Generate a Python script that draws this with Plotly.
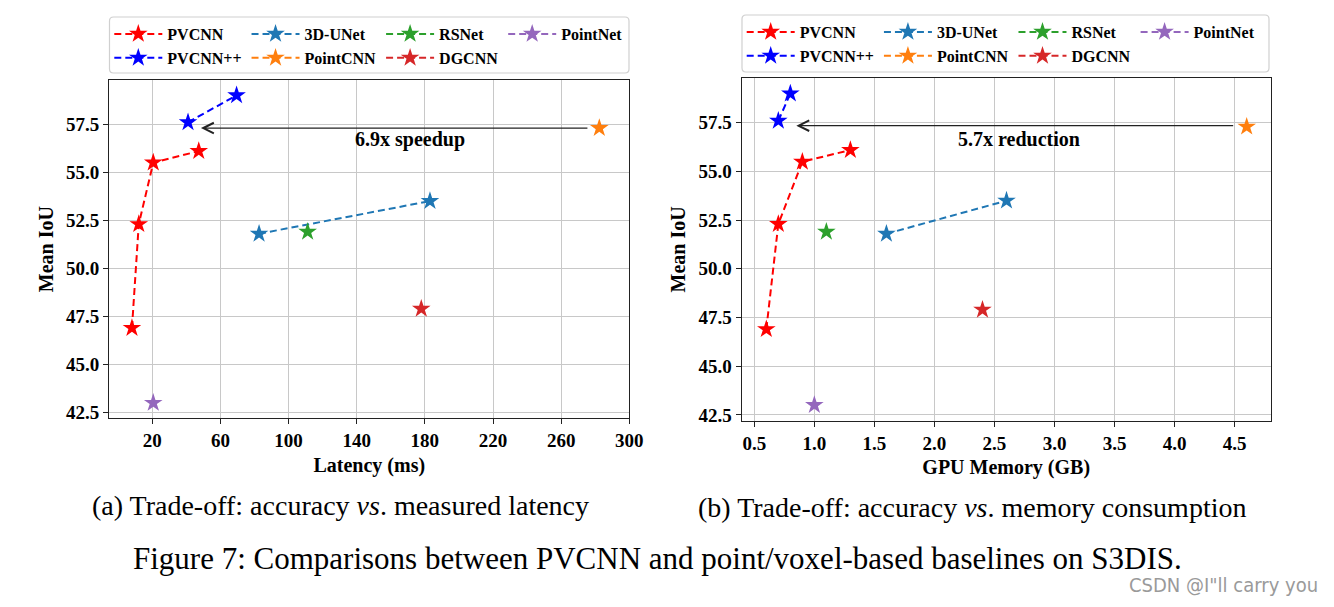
import plotly.graph_objects as go

W, H = 1334, 607
OFF = 8  # default page body margin in the browser

# ---------------- data ----------------
methods = ["PVCNN", "PVCNN++", "3D-UNet", "PointCNN", "RSNet", "DGCNN", "PointNet"]
colors = ["#ff0000", "#0000ff", "#1f77b4", "#ff7f0e", "#2ca02c", "#d62728", "#9467bd"]
legend_cols = [1, 1, 2, 2, 3, 3, 4]

latency = {
    "PVCNN": [8.1, 12.1, 20.6, 47.3],
    "PVCNN++": [41.0, 69.5],
    "3D-UNet": [82.7, 183.0],
    "PointCNN": [282.4],
    "RSNet": [111.2],
    "DGCNN": [177.9],
    "PointNet": [20.6],
}
memory = {
    "PVCNN": [0.6, 0.7, 0.9, 1.3],
    "PVCNN++": [0.7, 0.8],
    "3D-UNet": [1.6, 2.6],
    "PointCNN": [4.6],
    "RSNet": [1.1],
    "DGCNN": [2.4],
    "PointNet": [1.0],
}
miou = {
    "PVCNN": [46.9, 52.3, 55.5, 56.1],
    "PVCNN++": [57.6, 59.0],
    "3D-UNet": [51.8, 53.5],
    "PointCNN": [57.3],
    "RSNet": [51.9],
    "DGCNN": [47.9],
    "PointNet": [43.0],
}

lat_ticks = [20, 60, 100, 140, 180, 220, 260, 300]
mem_ticks = [0.5, 1.0, 1.5, 2.0, 2.5, 3.0, 3.5, 4.0, 4.5]
iou_ticks = [42.5, 45.0, 47.5, 50.0, 52.5, 55.0, 57.5]

speedup_arrow = {"from": (276.3, 57.3), "to": (48.6, 57.3), "label": "6.9x speedup", "label_at": (171.0, 56.69)}
memory_arrow = {"from": (4.5, 57.35), "to": (0.85, 57.35), "label": "5.7x reduction", "label_at": (2.70, 56.69)}

captions = [
    "(a) Trade-off: accuracy <i>vs</i>. measured latency",
    "(b) Trade-off: accuracy <i>vs</i>. memory consumption",
    "Figure 7: Comparisons between PVCNN and point/voxel-based baselines on S3DIS.",
]
watermark = "CSDN @I\"ll carry you"

# ---------------- helpers (window pixels -> paper fraction) ----------------
FW, FH = W - OFF, H - OFF

def px(x):
    return (x - OFF) / FW

def py(y):
    return 1 - (y - OFF) / FH

SERIF = "Liberation Serif"

fig = go.Figure()

for sub, xdata, legname in [(1, latency, "legend"), (2, memory, "legend2")]:
    for m, c, col in zip(methods, colors, legend_cols):
        fig.add_trace(go.Scatter(
            x=xdata[m], y=miou[m],
            mode="lines+markers",
            name=m,
            line=dict(color=c, width=2, dash="7px,4px"),
            marker=dict(symbol="star", size=14, color=c, line=dict(width=0)),
            xaxis="x" if sub == 1 else "x2",
            yaxis="y" if sub == 1 else "y2",
            legend=legname,
            legendgroup=f"{legname}_c{col}",
            showlegend=True,
        ))

axis_common = dict(
    showline=True, mirror=True, linecolor="#222222", linewidth=1.3,
    ticks="outside", ticklen=5, tickwidth=1.2, tickcolor="#222222",
    showgrid=True, gridcolor="#c8c8c8", gridwidth=1,
    zeroline=False, automargin=False,
    tickfont=dict(family=SERIF, size=19, color="black", weight="bold"),
    title_font=dict(family=SERIF, size=20, color="black", weight="bold"),
)

L1, R1 = 109.3, 629.3
L2, R2 = 741.7, 1270.7
T1, B1 = 80, 418.3
T2, B2 = 78, 420.7

fig.update_layout(
    xaxis=dict(axis_common, domain=[px(L1), px(R1)], range=[-5.2, 300], tickvals=lat_ticks,
               title=dict(text="Latency (ms)", standoff=7), anchor="y"),
    yaxis=dict(axis_common, domain=[py(B1), py(T1)], range=[42.2, 59.8], tickvals=iou_ticks,
               tickformat=".1f", title=dict(text="Mean IoU", standoff=7), anchor="x"),
    xaxis2=dict(axis_common, domain=[px(L2), px(R2)], range=[0.395, 4.8], tickvals=mem_ticks,
                tickformat=".1f", title=dict(text="GPU Memory (GB)", standoff=7), anchor="y2"),
    yaxis2=dict(axis_common, domain=[py(B2), py(T2)], range=[42.2, 59.8], tickvals=iou_ticks,
                tickformat=".1f", title=dict(text="Mean IoU", standoff=7), anchor="x2"),
)

leg_common = dict(
    orientation="h", traceorder="grouped", xanchor="left", yanchor="top",
    bgcolor="rgba(0,0,0,0)", borderwidth=0, itemwidth=48, tracegroupgap=0,
    font=dict(family=SERIF, size=16, color="black", weight="bold"),
    itemclick=False, itemdoubleclick=False,
)
fig.update_layout(
    legend=dict(leg_common, x=px(L1), y=py(17)),
    legend2=dict(leg_common, x=px(L2), y=py(15)),
)

# legend frames (rounded)
def rounded(x0, y0, x1, y1, r=4):
    rx, ry = r / FW, r / FH
    X0, X1 = px(x0), px(x1)
    Y0, Y1 = py(y0), py(y1)  # Y0 top, Y1 bottom
    return (f"M{X0+rx},{Y0} L{X1-rx},{Y0} Q{X1},{Y0} {X1},{Y0-ry} "
            f"L{X1},{Y1+ry} Q{X1},{Y1} {X1-rx},{Y1} L{X0+rx},{Y1} "
            f"Q{X0},{Y1} {X0},{Y1+ry} L{X0},{Y0-ry} Q{X0},{Y0} {X0+rx},{Y0} Z")

fig.add_shape(type="path", path=rounded(109.5, 17, 629, 73), xref="paper", yref="paper",
              line=dict(color="#d0d0d0", width=1.2), layer="below")
fig.add_shape(type="path", path=rounded(742, 15, 1269, 72), xref="paper", yref="paper",
              line=dict(color="#d0d0d0", width=1.2), layer="below")

# arrows + labels
for arr, xr, yr in [(speedup_arrow, "x", "y"), (memory_arrow, "x2", "y2")]:
    fig.add_annotation(
        x=arr["to"][0], y=arr["to"][1], ax=arr["from"][0], ay=arr["from"][1],
        xref=xr, yref=yr, axref=xr, ayref=yr, text="", showarrow=True,
        arrowhead=5, arrowsize=1.6, arrowwidth=1.3, arrowcolor="#222222",
    )
    fig.add_annotation(
        x=arr["label_at"][0], y=arr["label_at"][1], xref=xr, yref=yr,
        text=arr["label"], showarrow=False,
        font=dict(family=SERIF, size=20, color="black", weight="bold"),
    )

# captions
fig.add_annotation(x=px(340), y=py(505), xref="paper", yref="paper", text=captions[0],
                   xanchor="center", yanchor="middle",
                   showarrow=False, font=dict(family=SERIF, size=28, color="black"))
fig.add_annotation(x=px(972), y=py(507), xref="paper", yref="paper", text=captions[1],
                   xanchor="center", yanchor="middle",
                   showarrow=False, font=dict(family=SERIF, size=28, color="black"))
fig.add_annotation(x=px(657), y=py(558), xref="paper", yref="paper", text=captions[2],
                   xanchor="center", yanchor="middle",
                   showarrow=False, font=dict(family=SERIF, size=31, color="black"))
fig.add_annotation(x=px(1320), y=py(585), xref="paper", yref="paper", text=watermark,
                   xanchor="right", yanchor="middle", showarrow=False,
                   font=dict(family="DejaVu Sans Condensed, DejaVu Sans", size=20, color="#9a9a9a"))

fig.update_layout(
    width=FW, height=FH,
    margin=dict(l=0, r=0, t=0, b=0),
    paper_bgcolor="white", plot_bgcolor="white",
    showlegend=True,
)

fig.write_html("out.html")
